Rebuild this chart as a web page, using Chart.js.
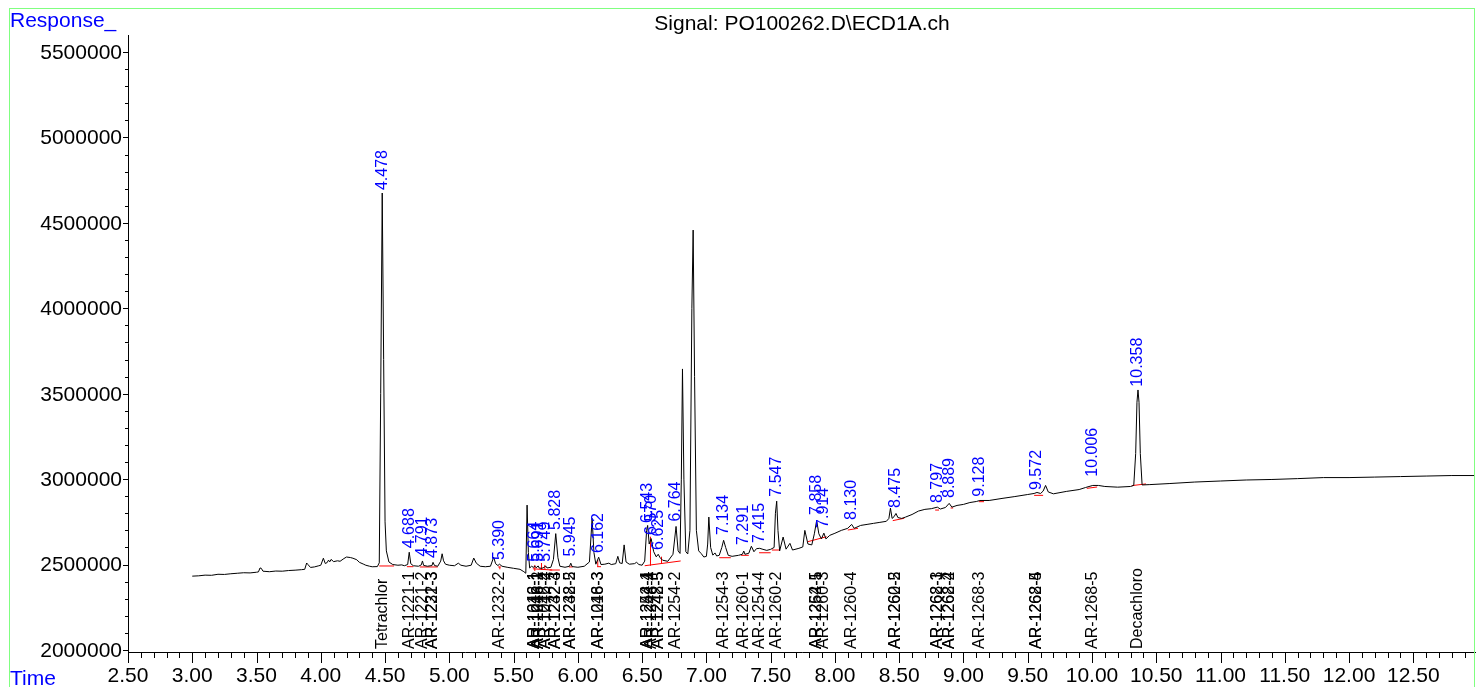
<!DOCTYPE html>
<html><head><meta charset="utf-8">
<script src="https://cdn.jsdelivr.net/npm/chart.js@4.4.1/dist/chart.umd.min.js"></script>
<style>
html,body{margin:0;padding:0;background:#fff;overflow:hidden}
#wrap{position:relative;width:1476px;height:687px}
#frame{position:absolute;left:9px;top:8px;width:1466px;height:700px;border:1px solid #80ff80;box-sizing:border-box;pointer-events:none}
canvas{position:absolute;left:0;top:0}
</style></head><body>
<div id="wrap"><canvas id="c" width="1476" height="687"></canvas><div id="frame"></div></div>
<script>
// ---- chromatogram trace (time in min, response) ----
const times = [
 3.00,3.05,3.10,3.15,3.20,3.25,3.30,3.35,3.40,3.45,3.50,3.515,3.527,3.537,3.55,3.60,3.65,3.70,3.75,3.80,3.85,3.875,3.89,3.90,3.92,3.95,3.98,4.00,4.02,4.035,4.05,4.06,4.07,4.08,4.10,4.13,4.15,4.18,4.20,4.23,4.25,4.28,4.30,4.33,4.35,4.38,4.40,4.44,
 4.455,4.466,4.478,4.489,4.50,4.51,4.53,4.56,4.60,4.63,4.65,4.676,4.688,4.70,4.72,4.76,4.782,4.791,4.80,4.83,4.865,4.873,4.885,4.91,4.933,4.944,4.955,4.97,5.00,5.04,5.07,5.09,5.13,5.17,5.19,5.21,5.24,5.28,5.32,5.345,5.36,5.378,5.390,5.41,5.45,5.50,5.55,5.58,5.595,
 5.605,5.615,5.625,5.64,5.655,5.664,5.675,5.691,5.70,5.72,5.74,5.749,5.76,5.79,5.81,5.828,5.845,5.86,5.90,5.935,5.945,5.955,6.00,6.05,6.09,6.111,6.125,6.14,6.162,6.18,6.21,6.241,6.26,6.295,6.311,6.325,6.345,6.36,6.375,6.40,6.44,6.457,6.475,6.50,6.52,6.535,6.543,6.555,6.570,6.59,6.61,6.625,6.64,6.66,6.70,6.74,6.764,6.78,6.795,
 6.805,6.814,6.825,6.84,6.855,6.872,6.887,6.897,6.908,6.922,6.94,6.96,6.98,7.00,7.01,7.019,7.033,7.05,7.067,7.08,7.10,7.12,7.134,7.15,7.17,7.20,7.25,7.28,7.291,7.30,7.33,7.35,7.37,7.39,7.415,7.44,7.47,7.50,7.527,7.537,7.547,7.557,7.57,
 7.597,7.62,7.65,7.67,7.72,7.75,7.766,7.79,7.82,7.84,7.858,7.875,7.895,7.914,7.93,7.96,8.00,8.05,8.10,8.13,8.15,8.20,8.25,8.30,8.35,8.40,8.42,8.432,8.445,8.46,8.475,8.49,8.52,8.55,8.60,8.65,8.70,8.75,8.797,8.82,8.86,8.889,8.91,8.95,9.00,
 9.05,9.10,9.128,9.20,9.30,9.40,9.50,9.55,9.572,9.60,9.62,9.639,9.66,9.70,9.80,9.90,9.95,10.006,10.05,10.10,10.20,10.30,10.325,10.34,10.35,10.358,10.366,10.376,10.39,10.45,10.60,10.80,11.00,11.20,11.40,11.60,11.80,12.00,12.20,12.40,12.60,12.80,12.98
];
const responses = [
 2432000,2434000,2438000,2437000,2443000,2442000,2446000,2449000,2452000,2451000,2455000,2457000,2480000,2478000,2461000,2458000,2462000,2461000,2465000,2467000,2470000,2472000,2509000,2500000,2483000,2486000,2492000,2496000,2537000,2506000,2512000,2526000,2516000,2530000,2517000,2522000,2519000,2535000,2544000,2541000,2537000,2528000,2513000,2503000,2496000,2490000,2487000,2488000,
 2510000,3500000,4675000,3700000,2750000,2580000,2515000,2500000,2496000,2498000,2493000,2500000,2572000,2505000,2493000,2490000,2498000,2521000,2495000,2490000,2494000,2513000,2494000,2490000,2520000,2563000,2522000,2502000,2496000,2493000,2508000,2496000,2490000,2496000,2538000,2508000,2490000,2487000,2490000,2543000,2505000,2494000,2502000,2490000,2484000,2478000,2472000,2458000,2449000,
 2848000,2570000,2480000,2490000,2483000,2492000,2481000,2492000,2479000,2478000,2484000,2492000,2480000,2484000,2530000,2681000,2540000,2490000,2484000,2490000,2508000,2488000,2484000,2490000,2515000,2770000,2570000,2502000,2543000,2500000,2502000,2508000,2500000,2505000,2548000,2510000,2506000,2615000,2515000,2502000,2505000,2513000,2500000,2496000,2520000,2700000,2729000,2620000,2652000,2575000,2545000,2560000,2540000,2525000,2519000,2560000,2723000,2580000,2565000,
 3000000,3645000,3000000,2575000,2562000,2700000,4000000,4458000,3600000,2700000,2580000,2564000,2544000,2548000,2620000,2778000,2600000,2555000,2568000,2550000,2554000,2600000,2642000,2600000,2554000,2548000,2554000,2560000,2579000,2560000,2566000,2607000,2575000,2593000,2595000,2589000,2583000,2589000,2600000,2800000,2871000,2700000,2580000,
 2661000,2590000,2624000,2585000,2595000,2603000,2700000,2620000,2615000,2680000,2758000,2680000,2650000,2684000,2650000,2671000,2683000,2700000,2712000,2735000,2712000,2729000,2735000,2741000,2747000,2753000,2770000,2830000,2770000,2780000,2799000,2775000,2770000,2778000,2793000,2813000,2823000,2827000,2836000,2825000,2834000,2858000,2836000,2846000,2852000,
 2863000,2869000,2875000,2875000,2887000,2898000,2910000,2916000,2922000,2916000,2930000,2963000,2925000,2914000,2928000,2939000,2951000,2963000,2963000,2957000,2953000,2957000,2963000,3150000,3450000,3522000,3450000,3150000,2966000,2968000,2974000,2983000,2989000,2995000,2998000,3003000,3009000,3009000,3012000,3015000,3018000,3021000,3021000
];

// ---- integrated peaks (blue retention-time labels) ----
const peakTimes = [4.478,4.688,4.791,4.873,5.390,5.664,5.691,5.749,5.828,5.945,6.162,6.543,6.570,6.625,6.764,7.134,7.291,7.415,7.547,7.858,7.914,8.130,8.475,8.797,8.889,9.128,9.572,10.006,10.358];
const peakApex  = [4669000,2572000,2523000,2515000,2503000,2493000,2493000,2493000,2679000,2523000,2544000,2720000,2650000,2562000,2728000,2650000,2591000,2603000,2874000,2767000,2691000,2738000,2808000,2837000,2866000,2874000,2913000,2991000,3518000];

// ---- compound identifications (black labels) ----
const compoundTimes = [4.478,4.688,4.791,4.873,4.873,5.390,5.664,5.664,5.691,5.691,5.749,5.749,5.828,5.828,5.945,5.945,6.162,6.162,6.543,6.543,6.570,6.625,6.625,6.764,7.134,7.291,7.415,7.547,7.858,7.858,7.914,8.130,8.475,8.475,8.797,8.797,8.889,8.889,9.128,9.572,9.572,10.006,10.358];
const compoundNames = ['Tetrachlor','AR-1221-1','AR-1221-2','AR-1221-3','AR-1232-3','AR-1232-2','AR-1016-1','AR-1242-1','AR-1016-2','AR-1248-1','AR-1242-2','AR-1016-4','AR-1232-4','AR-1242-3','AR-1232-5','AR-1248-2','AR-1016-3','AR-1248-3','AR-1254-1','AR-1242-4','AR-1248-4','AR-1242-5','AR-1248-5','AR-1254-2','AR-1254-3','AR-1260-1','AR-1254-4','AR-1260-2','AR-1254-5','AR-1262-1','AR-1260-3','AR-1260-4','AR-1260-5','AR-1262-2','AR-1268-1','AR-1262-3','AR-1268-2','AR-1262-4','AR-1268-3','AR-1262-5','AR-1268-4','AR-1268-5','Decachloro'];

// ---- integration baselines (red) ----
const intStartT = [4.455,4.67,4.77,5.38,5.65,5.78,5.93,6.15,6.52,7.10,7.27,7.41,7.51,7.79,8.10,8.45,8.78,8.90,9.12,9.55,9.96,10.31];
const intEndT   = [4.57,4.72,4.91,5.40,5.80,5.86,5.96,6.18,6.80,7.19,7.33,7.50,7.57,7.935,8.18,8.54,8.81,8.92,9.16,9.62,10.04,10.42];
const intStartV = [2491600,2487500,2485800,2485800,2475000,2468000,2486000,2487500,2493000,2540000,2554000,2569000,2585000,2634000,2702000,2757000,2819000,2831000,2868000,2905000,2946000,2962000];
const intEndV   = [2491600,2487500,2485800,2485800,2468000,2468000,2486000,2487500,2521000,2540000,2554000,2569000,2585000,2663000,2712000,2771000,2819000,2831000,2868000,2905000,2954000,2972000];
const dropT  = [5.393,5.665,5.717,5.743,6.155,6.565,6.651];
const dropLo = [2472000,2462000,2468000,2468000,2487500,2493000,2507000];
const dropHi = [2487500,2497500,2509000,2497500,2527000,2663000,2546000];

// ---- axes ----
const xMajorTicks = [2.5,3.0,3.5,4.0,4.5,5.0,5.5,6.0,6.5,7.0,7.5,8.0,8.5,9.0,9.5,10.0,10.5,11.0,11.5,12.0,12.5];
const yMajorTicks = [2000000,2500000,3000000,3500000,4000000,4500000,5000000,5500000];
const titleText = 'Signal: PO100262.D\\ECD1A.ch';

const FONT = '"Liberation Sans", Arial, sans-serif';
const red = 'rgb(255,0,0)';
const blue = 'rgb(0,0,255)';

const datasets = [{
  data: times.map((t, i) => ({x: t, y: responses[i]})),
  borderColor: '#000', borderWidth: 1, pointRadius: 0, tension: 0, fill: false
}];
intStartT.forEach((t, i) => datasets.push({
  data: [{x: t, y: intStartV[i]}, {x: intEndT[i], y: intEndV[i]}],
  borderColor: red, borderWidth: 1, pointRadius: 0, fill: false
}));
dropT.forEach((t, i) => datasets.push({
  data: [{x: t, y: dropLo[i]}, {x: t, y: dropHi[i]}],
  borderColor: red, borderWidth: 1, pointRadius: 0, fill: false
}));

const overlay = {
  id: 'overlay',
  afterDatasetsDraw(chart) {
    const {ctx, chartArea: a, scales: {x, y}} = chart;
    ctx.save();
    ctx.strokeStyle = '#000'; ctx.lineWidth = 1;
    ctx.beginPath();
    ctx.moveTo(a.left + 0.5, a.top);
    ctx.lineTo(a.left + 0.5, a.bottom + 0.5);
    ctx.lineTo(chart.width, a.bottom + 0.5);
    ctx.stroke();
    // y ticks (minor every 100000)
    ctx.beginPath();
    for (let k = 20; k <= 55; k++) {
      const py = Math.round(y.getPixelForValue(k * 100000)) + 0.5;
      const len = (k % 5 === 0) ? 5 : 3;
      ctx.moveTo(a.left - len, py); ctx.lineTo(a.left, py);
    }
    // x ticks (minor every 0.1)
    for (let k = 25; k <= 129; k++) {
      const px = Math.round(x.getPixelForValue(k / 10)) + 0.5;
      const len = (k % 5 === 0) ? 11 : 6;
      ctx.moveTo(px, a.bottom); ctx.lineTo(px, a.bottom + len);
    }
    ctx.stroke();
    ctx.fillStyle = '#000';
    ctx.font = '21px ' + FONT;
    ctx.textAlign = 'right'; ctx.textBaseline = 'middle';
    yMajorTicks.forEach(v => ctx.fillText(String(v), a.left - 6, y.getPixelForValue(v) + 1));
    ctx.textAlign = 'center';
    xMajorTicks.forEach(v => ctx.fillText(v.toFixed(2), x.getPixelForValue(v), 676));
    // title & axis names
    ctx.fillText(titleText, (a.left + chart.width) / 2, 24);
    ctx.fillStyle = blue; ctx.textAlign = 'left';
    ctx.fillText('Response_', 10, 21);
    ctx.fillText('Time', 10, 679);
    // compound labels
    ctx.fillStyle = '#000';
    ctx.font = '16px ' + FONT;
    ctx.textBaseline = 'middle';
    compoundTimes.forEach((t, i) => {
      ctx.save();
      ctx.translate(x.getPixelForValue(t), a.bottom - 3);
      ctx.rotate(-Math.PI / 2);
      ctx.fillText(compoundNames[i], 0, 0);
      ctx.restore();
    });
    // retention time labels
    ctx.fillStyle = blue;
    peakTimes.forEach((t, i) => {
      ctx.save();
      ctx.translate(x.getPixelForValue(t), y.getPixelForValue(peakApex[i]) - 4);
      ctx.rotate(-Math.PI / 2);
      ctx.fillText(t.toFixed(3), 0, 0);
      ctx.restore();
    });
    ctx.restore();
  }
};

new Chart(document.getElementById('c'), {
  type: 'line',
  data: {datasets},
  options: {
    responsive: false, animation: false, events: [],
    layout: {padding: {left: 128, right: 1, top: 35, bottom: 35}},
    plugins: {legend: {display: false}, tooltip: {enabled: false}, title: {display: false}},
    scales: {
      x: {type: 'linear', min: 2.5, max: 12.98, display: false},
      y: {type: 'linear', min: 1988000, max: 5600000, display: false}
    }
  },
  plugins: [overlay]
});
</script>
</body></html>
